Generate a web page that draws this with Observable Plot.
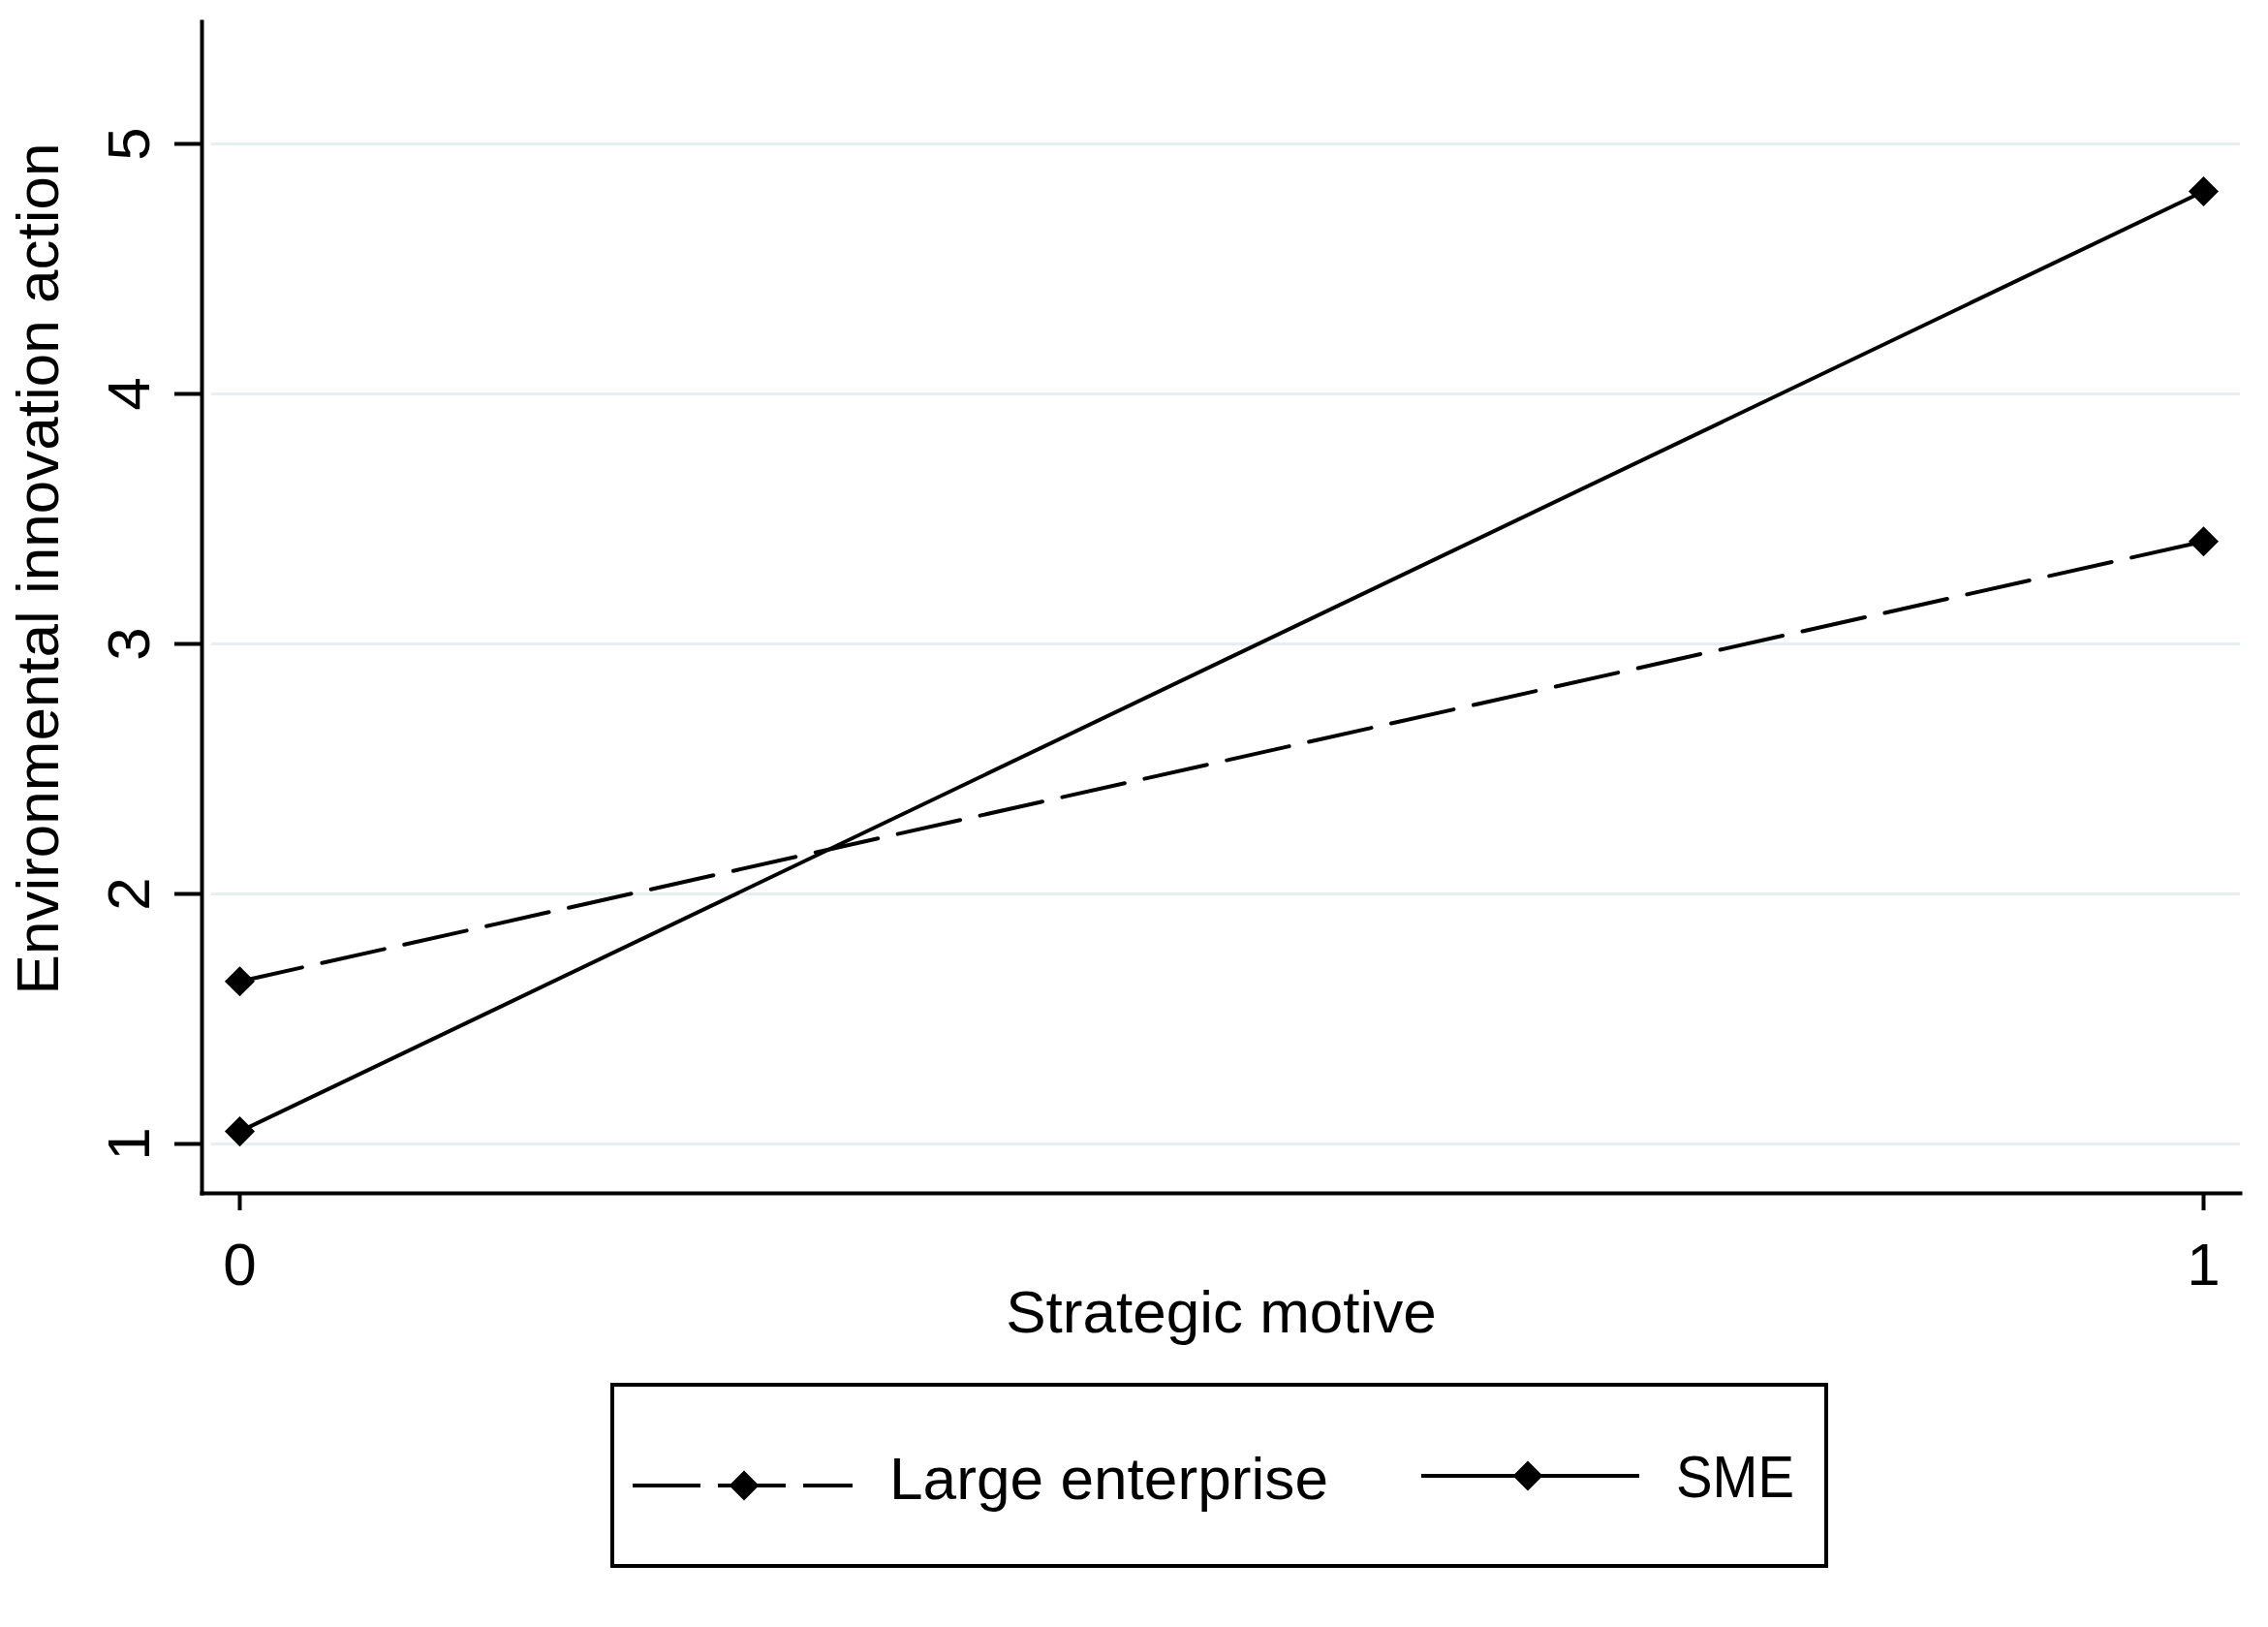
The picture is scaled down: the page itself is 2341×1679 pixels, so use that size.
<!DOCTYPE html>
<html><head><meta charset="utf-8">
<script src="https://cdn.jsdelivr.net/npm/d3@7"></script>
<script src="https://cdn.jsdelivr.net/npm/@observablehq/plot@0.6"></script>
<style>
html,body{margin:0;padding:0;background:#fff;}
#chart svg{display:block}
</style></head><body><div id="chart"></div>
<script>
const xValues = [0, 1];
const xTickLabels = ["0", "1"];
const yTicks = [1, 2, 3, 4, 5];
const seriesNames = ["Large enterprise", "SME"];
const largeValues = [1.65, 3.41];
const smeValues = [1.05, 4.81];
const xTitle = "Strategic motive";
const yTitle = "Environmental innovation action";

const FONT = "'Liberation Sans', Arial, sans-serif";
const FS = 62;

const largeData = xValues.map((x, i) => ({x, y: largeValues[i], s: seriesNames[0]}));
const smeData = xValues.map((x, i) => ({x, y: smeValues[i], s: seriesNames[1]}));

const chart = Plot.plot({
  width: 2341, height: 1410,
  marginLeft: 208, marginRight: 29, marginTop: 22, marginBottom: 179,
  style: {fontFamily: FONT, background: "white", color: "black", overflow: "visible"},
  x: {domain: [0, 1], insetLeft: 39, insetRight: 38, axis: null},
  y: {domain: [1, 5], insetTop: 126, insetBottom: 51, axis: null},
  marks: [
    Plot.gridY(yTicks, {stroke: "#e6eff1", strokeOpacity: 1, strokeWidth: 3, insetLeft: 10}),
    Plot.frame({anchor: "left", stroke: "black", strokeWidth: 4}),
    Plot.frame({anchor: "bottom", stroke: "black", strokeWidth: 4}),
    Plot.axisY(yTicks, {tickSize: 28, strokeWidth: 4, tickFormat: () => "", label: null}),
    Plot.axisX(xValues, {tickSize: 18, strokeWidth: 4, tickFormat: () => "", label: null}),
    Plot.text(yTicks, {y: d => d, text: d => String(d), frameAnchor: "left", dx: -74, rotate: -90,
      textAnchor: "middle", lineAnchor: "middle", fontSize: FS, fill: "black"}),
    Plot.text(xValues, {x: d => d, text: (d, i) => xTickLabels[i], frameAnchor: "bottom", dy: 50,
      textAnchor: "middle", lineAnchor: "top", fontSize: FS, fill: "black"}),
    Plot.text([xTitle], {text: d => d, frameAnchor: "bottom", dy: 124,
      textAnchor: "middle", lineAnchor: "middle", fontSize: FS, fill: "black"}),
    Plot.text([yTitle], {text: d => d, frameAnchor: "left", rotate: -90, dx: -168, dy: -40,
      textAnchor: "middle", lineAnchor: "middle", fontSize: FS, fill: "black"}),
    Plot.line(largeData, {x: "x", y: "y", stroke: "black", strokeWidth: 4, strokeDasharray: "66,21"}),
    Plot.line(smeData, {x: "x", y: "y", stroke: "black", strokeWidth: 4}),
    Plot.dot(largeData.concat(smeData), {x: "x", y: "y", symbol: "diamond2", fill: "black", stroke: "none", r: 14})
  ]
});
document.getElementById("chart").appendChild(chart);

// Legend (below the plot SVG)
const legend = d3.select("#chart").append("svg")
  .attr("width", 2341).attr("height", 269)
  .style("display", "block")
  .style("font-family", FONT);
legend.append("rect").attr("x", 632).attr("y", 19).attr("width", 1253).attr("height", 187)
  .attr("fill", "white").attr("stroke", "black").attr("stroke-width", 4);
const diamond = (cx, cy, h) => `M${cx},${cy - h}L${cx + h},${cy}L${cx},${cy + h}L${cx - h},${cy}Z`;
// Large enterprise sample
legend.append("line").attr("x1", 653).attr("x2", 880).attr("y1", 123).attr("y2", 123)
  .attr("stroke", "black").attr("stroke-width", 4).attr("stroke-dasharray", "70,18");
legend.append("path").attr("d", diamond(768, 123, 15.5)).attr("fill", "black");
legend.append("text").attr("x", 918).attr("y", 137).attr("font-size", FS).attr("fill", "black")
  .attr("textLength", 453).attr("lengthAdjust", "spacingAndGlyphs").text(seriesNames[0]);
// SME sample
legend.append("line").attr("x1", 1467).attr("x2", 1692).attr("y1", 113).attr("y2", 113)
  .attr("stroke", "black").attr("stroke-width", 4);
legend.append("path").attr("d", diamond(1577, 113, 15.5)).attr("fill", "black");
legend.append("text").attr("x", 1730).attr("y", 135).attr("font-size", FS).attr("fill", "black")
  .attr("textLength", 122).attr("lengthAdjust", "spacingAndGlyphs").text(seriesNames[1]);
</script>
</body></html>
